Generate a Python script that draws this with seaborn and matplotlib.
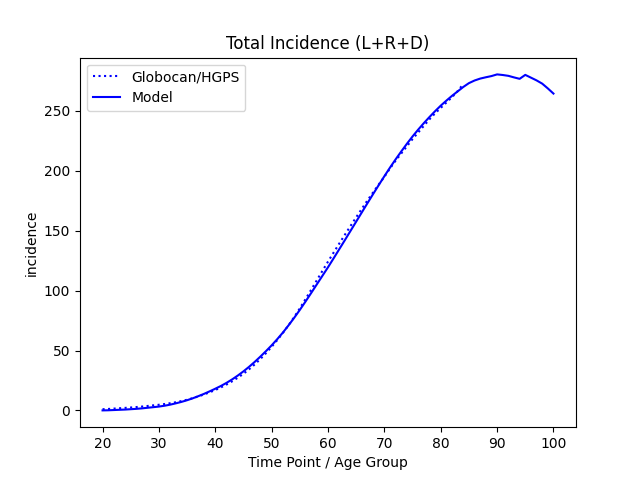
import matplotlib
matplotlib.use("Agg")
import matplotlib.pyplot as plt
import pandas as pd
import seaborn as sns

# Globocan/HGPS reference incidence, ages 20..84
obs_age = list(range(20, 85))
obs_incidence = [
    1.0, 1.2, 1.5, 1.8, 2.1, 2.4, 2.8, 3.2, 3.7, 4.2,
    4.7, 5.3, 6.0, 6.8, 7.8, 8.9, 10.2, 11.7, 13.3, 15.1,
    17.0, 19.2, 21.6, 24.3, 27.3, 30.6, 34.3, 38.4, 42.9, 47.8,
    53.1, 58.7, 64.7, 71.1, 77.9, 85.2, 92.8, 100.6, 108.5, 116.4,
    124.2, 131.8, 139.3, 146.7, 154.0, 161.2, 168.3, 175.3, 182.0, 188.6,
    195.0, 202.0, 208.5, 214.5, 220.5, 226.5, 232.0, 237.5, 243.0, 248.0,
    252.5, 257.0, 261.5, 266.5, 272.5,
]

# model incidence, ages 20..100
model_age = list(range(20, 101))
model_incidence = [
    0.0, 0.1, 0.3, 0.5, 0.7, 1.0, 1.3, 1.7, 2.2, 2.7,
    3.2, 3.9, 4.8, 5.9, 7.1, 8.5, 10.1, 11.9, 13.8, 15.9,
    18.1, 20.4, 23.0, 25.9, 29.1, 32.6, 36.4, 40.5, 44.9, 49.5,
    54.3, 59.5, 65.0, 71.0, 77.3, 83.9, 90.8, 97.9, 105.1, 112.3,
    119.5, 127.0, 134.6, 142.2, 149.9, 157.6, 165.3, 173.0, 180.6, 188.1,
    195.5, 202.7, 209.6, 216.2, 222.6, 228.7, 234.4, 239.8, 244.9, 249.8,
    254.4, 258.6, 262.6, 266.3, 270.0, 273.2, 275.4, 277.0, 278.1, 279.1,
    280.5, 280.0, 279.3, 278.0, 276.8, 280.1, 277.8, 275.5, 272.8, 268.8,
    264.5,
]

obs = pd.DataFrame({"age": obs_age, "incidence": obs_incidence})
model = pd.DataFrame({"age": model_age, "incidence": model_incidence})

fig, ax = plt.subplots(figsize=(6.4, 4.8), dpi=100)
sns.lineplot(data=obs, x="age", y="incidence", color="blue", linestyle=":",
             linewidth=1.5, label="Globocan/HGPS", ax=ax)
sns.lineplot(data=model, x="age", y="incidence", color="blue",
             linewidth=1.5, label="Model", ax=ax)
ax.set_title("Total Incidence (L+R+D)")
ax.set_xlabel("Time Point / Age Group")
ax.set_ylabel("incidence")
ax.legend(loc="upper left")
plt.savefig("out.png", dpi=100)
plt.close()
